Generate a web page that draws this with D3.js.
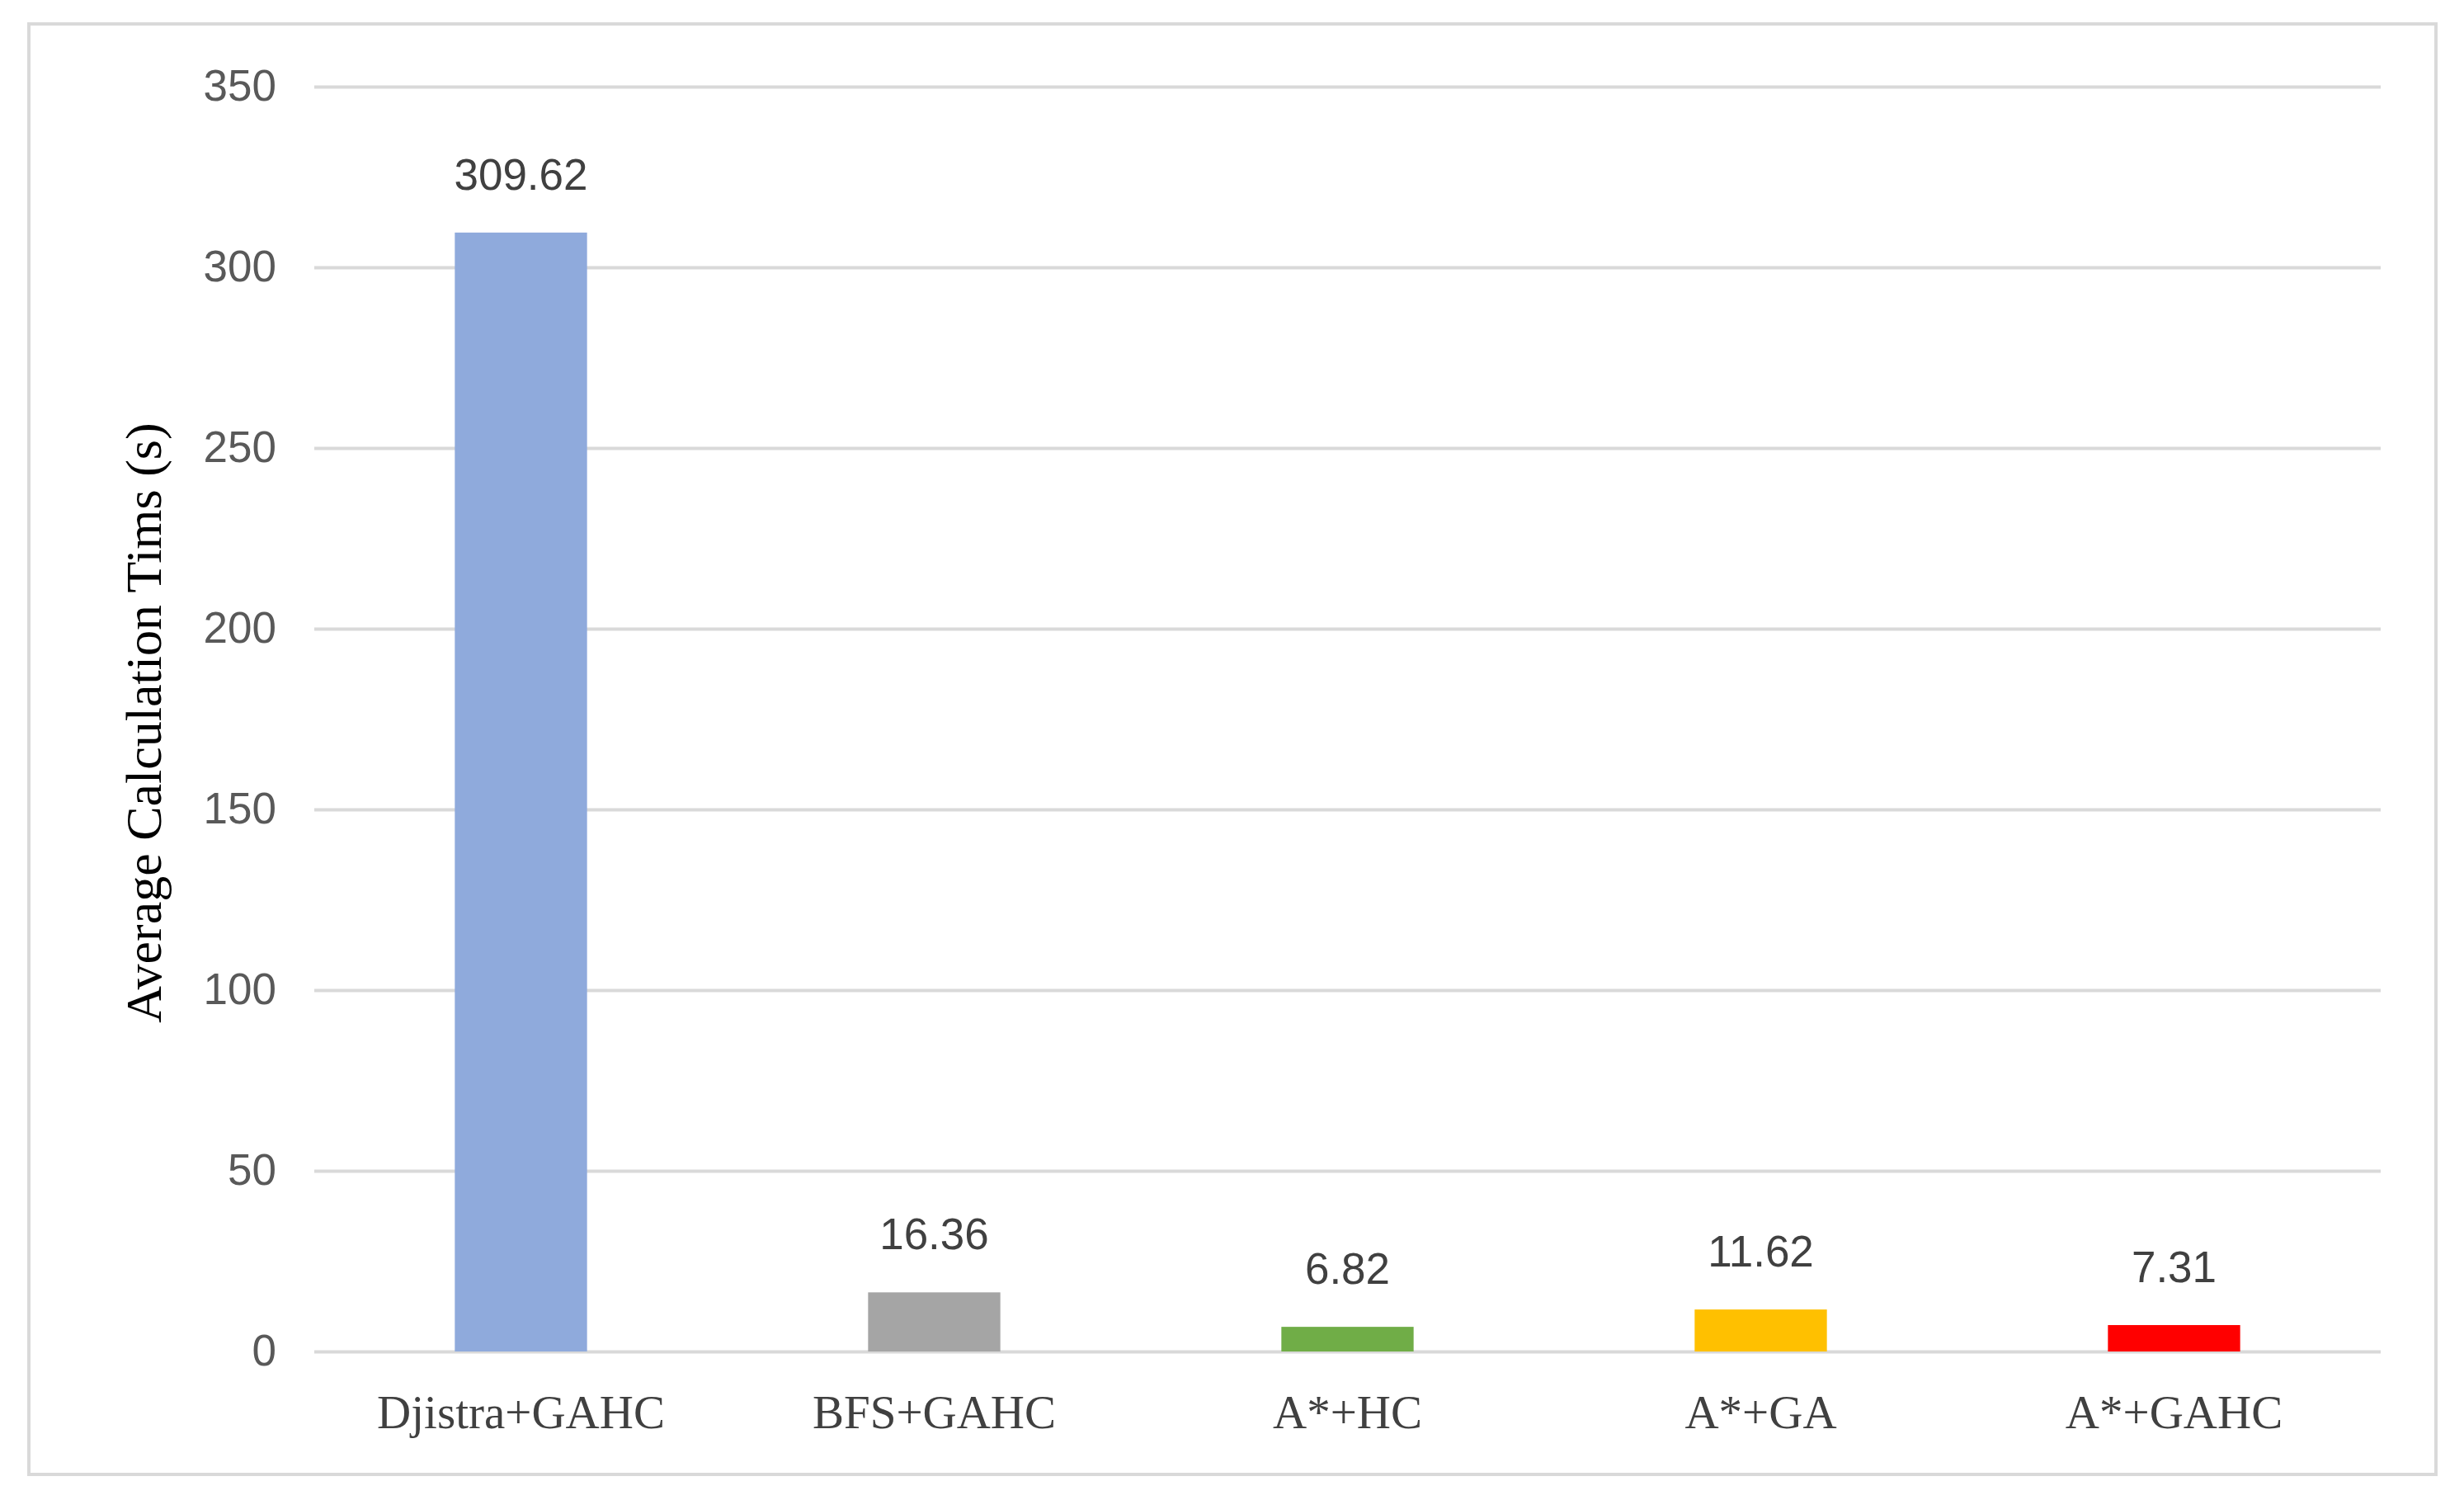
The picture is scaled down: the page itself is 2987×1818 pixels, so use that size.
<!DOCTYPE html><html><head><meta charset="utf-8"><script src="https://cdn.jsdelivr.net/npm/d3@7"></script>
<style>body{margin:0;background:#fff}</style></head><body><svg id="c" width="2987" height="1818"></svg><script>
const categories=["Djistra+GAHC","BFS+GAHC","A*+HC","A*+GA","A*+GAHC"];
const values=[309.62,16.36,6.82,11.62,7.31];
const valueLabels=["309.62","16.36","6.82","11.62","7.31"];
const colors=["#8faadc","#a5a5a5","#70ad47","#ffc000","#ff0000"];
const yTicks=[0,50,100,150,200,250,300,350];
const svg=d3.select("#c");
svg.append("rect").attr("x",35).attr("y",29).attr("width",2918).attr("height",1758).attr("fill","#fff").attr("stroke","#d9d9d9").attr("stroke-width",4);
const x=d3.scaleBand().domain(categories).range([381,2886]).paddingInner(0.68).paddingOuter(0.34);
const y=d3.scaleLinear().domain([0,350]).range([1638,105]);
const ya=svg.append("g").attr("transform","translate(381,0)").call(d3.axisLeft(y).tickValues(yTicks).tickSize(-2505).tickPadding(46));
ya.select(".domain").remove();
ya.selectAll("line").attr("stroke","#d9d9d9").attr("stroke-width",4);
ya.selectAll("text").attr("fill","#595959").attr("font-family","Liberation Sans, Arial, sans-serif").attr("font-size",53);
svg.selectAll(".bar").data(values).enter().append("rect").attr("x",(d,i)=>x(categories[i])).attr("width",x.bandwidth()).attr("y",d=>y(d)).attr("height",d=>y(0)-y(d)).attr("fill",(d,i)=>colors[i]);
svg.selectAll(".lbl").data(values).enter().append("text").attr("x",(d,i)=>x(categories[i])+x.bandwidth()/2).attr("y",d=>y(d)-52).attr("text-anchor","middle").attr("fill","#404040").attr("font-family","Liberation Sans, Arial, sans-serif").attr("font-size",53).text((d,i)=>valueLabels[i]);
const xa=svg.append("g").attr("transform","translate(0,1638)").call(d3.axisBottom(x).tickSize(0).tickPadding(50));
xa.select(".domain").remove();
xa.selectAll("text").attr("fill","#404040").attr("font-family","Liberation Serif, Times New Roman, serif").attr("font-size",57).attr("dy","0.75em");
svg.append("text").attr("transform","translate(195,876) rotate(-90)").attr("text-anchor","middle").attr("font-family","Liberation Serif, Times New Roman, serif").attr("font-size",62).attr("fill","#000").text("Average Calculation Tims (s)");
</script></body></html>
